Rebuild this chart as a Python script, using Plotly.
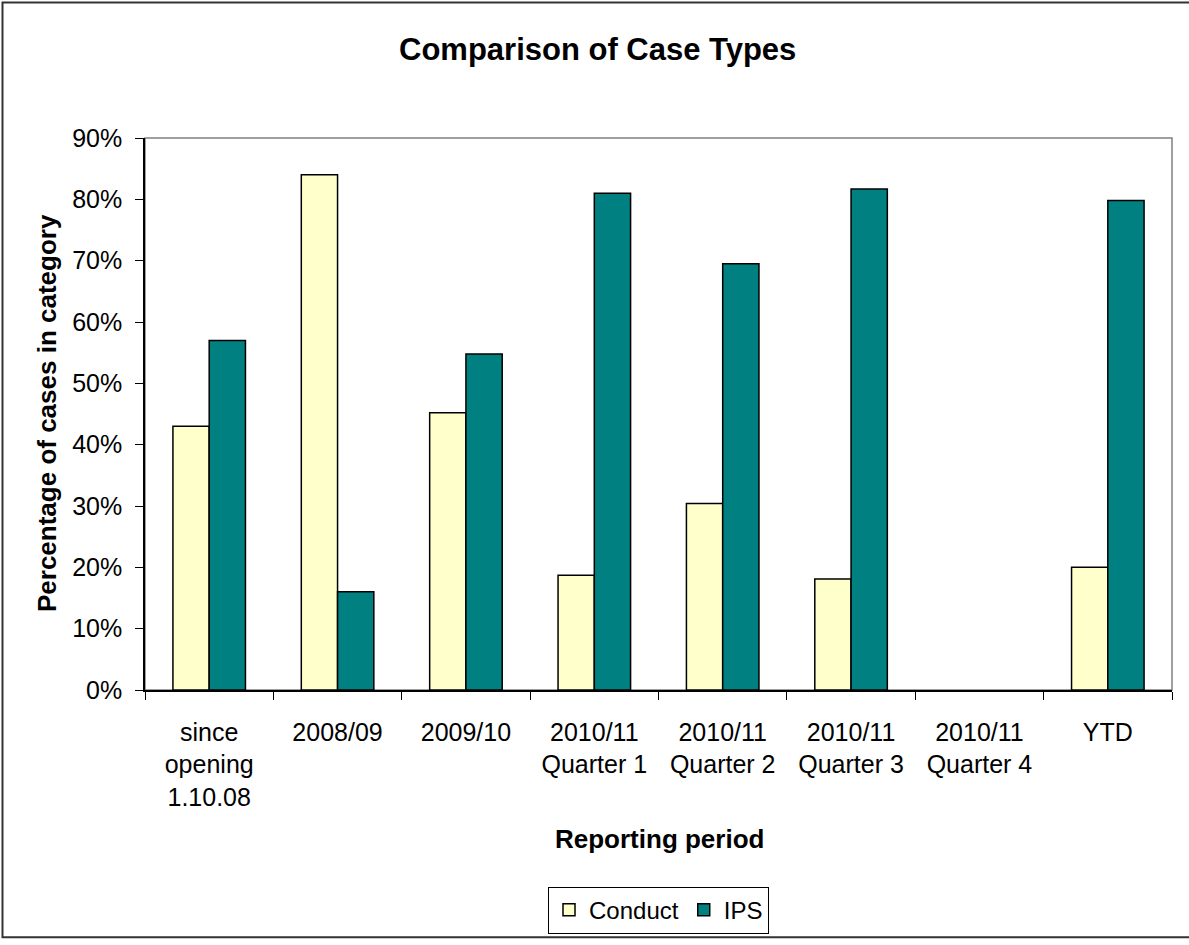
import plotly.graph_objects as go

categories = ["since<br>opening<br>1.10.08", "2008/09", "2009/10", "2010/11<br>Quarter 1",
              "2010/11<br>Quarter 2", "2010/11<br>Quarter 3", "2010/11<br>Quarter 4", "YTD"]
conduct = [0.43, 0.84, 0.452, 0.187, 0.304, 0.181, None, 0.20]
ips = [0.57, 0.16, 0.548, 0.81, 0.695, 0.817, None, 0.798]
y_ticks = [0, 0.1, 0.2, 0.3, 0.4, 0.5, 0.6, 0.7, 0.8, 0.9]

FONT = "Liberation Sans, Arial, sans-serif"

fig = go.Figure()
fig.add_trace(go.Bar(name="Conduct", x=categories, y=conduct,
                     marker=dict(color="#FFFFCC", line=dict(color="#000000", width=1.5))))
fig.add_trace(go.Bar(name="IPS", x=categories, y=ips,
                     marker=dict(color="#008080", line=dict(color="#000000", width=1.5))))

L, R, T, B = 145, 17, 138, 251
W, H = 1189, 945
pw, ph = W - L - R, H - T - B

def px(x):
    return (x - L) / pw

def py(y):
    return (H - B - y) / ph

fig.update_layout(
    width=W, height=H,
    margin=dict(l=L, r=R, t=T, b=B),
    paper_bgcolor="white", plot_bgcolor="white",
    font=dict(family=FONT, size=25, color="black"),
    barmode="group", bargap=0.435, bargroupgap=0,
    showlegend=True,
    legend=dict(orientation="h", x=0.5, xanchor="center", y=py(892), yanchor="top",
                bordercolor="#000000", borderwidth=1, bgcolor="white",
                font=dict(size=24, family=FONT), itemwidth=30, tracegroupgap=0),
    xaxis=dict(showline=True, linecolor="black", linewidth=1.5, ticks="outside",
               tickson="boundaries", ticklen=8, tickcolor="black", showgrid=False,
               ticklabelstandoff=19,
               tickfont=dict(size=25, family=FONT)),
    yaxis=dict(range=[0, 0.9], tickvals=y_ticks, tickformat=".0%", showline=True,
               linecolor="black", linewidth=1.5, ticks="outside", ticklen=8,
               tickcolor="black", showgrid=False, zeroline=False,
               ticklabelstandoff=8,
               tickfont=dict(size=25, family=FONT)),
    shapes=[
        dict(type="rect", xref="paper", yref="paper", x0=0, x1=1, y0=0, y1=1,
             line=dict(color="#808080", width=1.5), layer="below"),
        dict(type="rect", xref="paper", yref="paper", x0=px(2.5), x1=px(1200),
             y0=py(943), y1=py(1.5), line=dict(color="#333333", width=2), layer="below"),
    ],
    annotations=[
        dict(text="<b>Comparison of Case Types</b>", xref="paper", yref="paper",
             x=px(597), y=py(49), xanchor="center", yanchor="middle", showarrow=False,
             font=dict(size=31, family=FONT)),
        dict(text="<b>Percentage of cases in category</b>", xref="paper", yref="paper",
             x=px(47), y=py(415), xanchor="center", yanchor="middle", showarrow=False,
             textangle=-90, font=dict(size=26, family=FONT)),
        dict(text="<b>Reporting period</b>", xref="paper", yref="paper",
             x=px(659.5), y=py(844), xanchor="center", yanchor="middle", showarrow=False,
             font=dict(size=26, family=FONT)),
    ],
)

fig.write_html("out.html")
